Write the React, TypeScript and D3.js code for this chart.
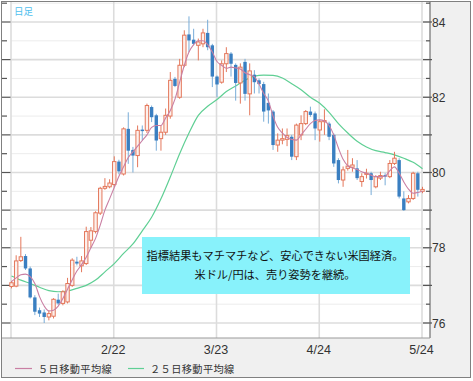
import React from 'react';
import * as d3 from 'd3';

const W = 473;
const H = 381;

// Daily candles (USD/JPY), index 0..88
const opens = [76.97,76.98,77.66,77.78,77.45,76.68,76.34,76.28,76.16,76.18,76.62,76.52,76.56,77.0,77.63,77.52,77.58,78.2,78.43,78.92,79.58,79.62,79.68,80.29,79.96,81.16,80.6,80.45,81.14,81.12,81.74,81.52,80.9,81.07,81.5,82.49,82.0,82.85,83.67,83.53,83.38,83.42,83.71,83.38,82.55,82.4,82.89,83.16,82.86,82.38,82.94,82.09,82.6,82.45,82.35,81.85,81.62,80.73,80.86,80.88,80.95,80.42,81.0,81.3,81.62,81.57,81.13,81.35,81.3,81.0,80.33,79.8,80.11,80.14,80.11,79.76,79.95,79.98,79.62,79.85,79.93,79.89,80.24,80.33,79.31,79.22,79.31,79.98,79.5];
const highs = [77.12,77.8,78.29,77.83,77.5,76.74,76.41,76.36,76.34,76.66,76.78,76.87,77.2,77.72,77.76,77.78,78.56,78.55,78.97,79.62,79.85,79.82,80.43,80.34,81.2,81.6,80.68,81.25,81.25,81.83,81.78,81.56,81.25,81.7,82.67,82.54,83.02,83.78,84.15,83.82,83.56,83.82,84.06,83.42,82.58,82.98,83.33,83.2,82.9,82.9,83.02,82.9,82.72,82.5,82.41,82.1,81.66,81.04,81.17,81.17,81.0,81.3,81.52,81.66,81.75,81.62,81.4,81.68,81.35,81.04,80.38,80.16,80.6,80.38,80.33,79.98,80.1,80.02,79.93,80.02,79.98,80.33,80.55,80.38,79.5,79.4,80.02,80.02,79.62];
const lows = [76.92,76.95,77.62,77.41,76.65,76.21,76.16,76.0,76.07,76.12,76.48,76.47,76.52,76.96,77.53,77.35,77.54,78.0,78.38,78.87,79.54,79.58,79.62,79.95,79.92,80.23,80.0,80.14,80.85,81.05,81.34,80.58,80.58,81.0,81.43,82.27,81.96,82.8,83.2,83.38,82.98,83.33,83.25,82.27,82.0,82.36,82.67,82.55,81.91,81.83,81.91,81.52,82.1,82.1,81.35,81.3,80.6,80.55,80.75,80.7,80.33,80.33,80.86,81.26,81.48,80.86,80.82,81.0,80.86,80.15,79.71,79.62,80.05,80.02,79.8,79.62,79.84,79.4,79.58,79.8,79.66,79.85,80.2,79.31,78.98,79.18,79.27,79.36,79.45];
const closes = [77.07,77.65,77.76,77.45,76.68,76.3,76.25,76.16,76.25,76.63,76.52,76.83,77.05,77.67,77.58,77.65,78.43,78.45,78.93,79.58,79.63,79.72,80.29,80.03,81.16,80.58,80.45,81.12,81.1,81.78,81.47,80.85,81.07,81.52,82.45,82.3,82.85,83.65,83.51,83.42,83.47,83.71,83.33,82.55,82.34,82.89,83.16,82.89,82.38,82.8,82.09,82.7,82.4,82.35,81.62,81.65,80.73,80.86,80.9,80.98,80.42,81.26,81.3,81.62,81.53,81.17,81.35,81.38,80.95,80.24,79.8,80.07,80.17,80.2,79.85,79.89,79.98,79.8,79.89,79.92,79.89,80.24,80.38,79.36,79.0,79.31,79.98,79.54,79.55];

// 5-day moving average (read per candle)
const ma5 = [77.1,77.2,77.28,77.3,77.23,77.05,76.7,76.45,76.32,76.34,76.45,76.65,76.9,77.15,77.38,77.55,77.75,78.0,78.25,78.6,79.0,79.3,79.6,79.9,80.15,80.4,80.55,80.7,80.85,81.0,81.2,81.25,81.25,81.45,81.65,81.95,82.4,82.85,83.2,83.4,83.5,83.5,83.4,83.2,82.95,82.85,82.77,82.8,82.78,82.75,82.65,82.6,82.55,82.35,82.1,81.9,81.5,81.2,81.05,80.93,80.88,80.86,81.0,81.15,81.3,81.38,81.4,81.37,81.25,81.0,80.65,80.35,80.18,80.12,80.08,80.02,79.98,79.93,79.89,79.89,79.9,80.05,80.15,79.98,79.75,79.56,79.45,79.47,79.5];

// 25-day moving average (read every other candle)
const ma25Idx = [0,2,4,6,8,10,12,14,16,18,20,22,24,26,28,30,32,34,36,38,40,42,44,46,48,50,52,54,56,58,60,62,64,66,68,70,72,74,76,78,80,82,84,86,88];
const ma25 = [77.25,77.14,77.05,76.95,76.86,76.83,76.85,76.92,77.0,77.14,77.36,77.58,77.85,78.1,78.45,78.81,79.3,79.88,80.5,81.05,81.52,81.76,81.94,82.15,82.3,82.45,82.56,82.59,82.58,82.51,82.36,82.2,82.0,81.84,81.6,81.3,81.05,80.83,80.68,80.58,80.53,80.47,80.38,80.27,80.1];

const gridIdx = [0, 22, 44, 66, 88];
const xTickIdx = [22, 44, 66, 88];
const xTickLabels = ['2/22', '3/23', '4/24', '5/24'];
const yLabels = [76, 78, 80, 82, 84];
const legendLabels = ['５日移動平均線', '２５日移動平均線'];
const noteLines = ['指標結果もマチマチなど、安心できない米国経済。', '米ドル/円は、売り姿勢を継続。'];
const periodLabel = '日足';

const UP = '#e4785c';
const DOWN = '#3a7fc1';
const DOWN_WICK = '#78acd8';
const MA5C = '#c97fa3';
const MA25C = '#5fcf94';

export default function App() {
  const x = d3.scaleLinear().domain([0, 88]).range([11.5, 422.5]);
  const y = d3.scaleLinear().domain([76, 84]).range([323, 22]);

  const gridVals = d3.range(76, 84.51, 0.5);

  const ma5Line = d3.line<number>()
    .x((_, i) => x(i))
    .y((d) => y(d))
    .curve(d3.curveMonotoneX)(ma5) as string;
  const ma25Line = d3.line<number>()
    .x((_, i) => x(ma25Idx[i]))
    .y((d) => y(d))
    .curve(d3.curveMonotoneX)(ma25) as string;

  const bw = 3.4;
  const jp = '"Noto Sans CJK JP", "Noto Sans", sans-serif';
  const lat = '"Liberation Sans", Arial, sans-serif';

  return (
    <svg width={W} height={H} style={{ position: 'absolute', left: 0, top: 0 }}>
      <rect x={0} y={0} width={W} height={H} fill="#ffffff" />
      <rect x={1.5} y={1.5} width={469} height={376} fill="#f0f0f0" stroke="#808080" />
      <rect x={2} y={2} width={428} height={336} fill="#ffffff" />

      {/* horizontal grid */}
      {gridVals.map((v) => {
        const major = Math.abs(v - Math.round(v)) < 1e-6;
        return (
          <line key={'g' + v} x1={11} x2={429} y1={y(v)} y2={y(v)}
            stroke={major ? '#dcdcdc' : '#ececec'} strokeWidth={major ? 1.6 : 1} />
        );
      })}
      {/* vertical grid */}
      {gridIdx.map((i) => (
        <line key={'v' + i} x1={x(i) - 0.5} x2={x(i) - 0.5} y1={2} y2={338} stroke="#dcdcdc" strokeWidth={1.6} />
      ))}

      {/* left ticks */}
      {gridVals.map((v) => {
        const major = Math.abs(v - Math.round(v)) < 1e-6;
        return <line key={'lt' + v} x1={2} x2={major ? 10.5 : 7} y1={y(v)} y2={y(v)} stroke="#555" strokeWidth={1.2} />;
      })}
      {/* right axis */}
      <line x1={430} x2={430} y1={2} y2={338} stroke="#707070" strokeWidth={1.2} />
      {gridVals.map((v) => {
        const major = Math.abs(v - Math.round(v)) < 1e-6;
        return <line key={'rt' + v} x1={major ? 423 : 426} x2={major ? 432 : 430} y1={y(v)} y2={y(v)} stroke="#555" strokeWidth={1.2} />;
      })}
      {yLabels.map((v) => (
        <text key={'yl' + v} x={432} y={y(v) + 4.5} fontFamily={lat} fontSize={12} fill="#333">{v}</text>
      ))}
      <line x1={2} x2={430} y1={338} y2={338} stroke="#9a9a9a" strokeWidth={1} />

      {/* x labels */}
      {xTickIdx.map((i, k) => (
        <text key={'xl' + i} x={x(i) - 1} y={354} textAnchor="middle" fontFamily={lat} fontSize={12.5} fill="#333">{xTickLabels[k]}</text>
      ))}

      {/* 25 MA */}
      <path d={ma25Line} fill="none" stroke={MA25C} strokeWidth={1.2} />

      {/* candles */}
      {opens.map((o, i) => {
        const c = closes[i];
        const up = c >= o;
        const cx = x(i);
        const top = y(Math.max(o, c));
        const bot = y(Math.min(o, c));
        return (
          <g key={'c' + i}>
            <line x1={cx} x2={cx} y1={y(highs[i])} y2={y(lows[i])} stroke={up ? UP : DOWN_WICK} strokeWidth={1} />
            {up ? (
              <rect x={cx - bw / 2} y={top} width={bw} height={Math.max(bot - top, 1)} fill="#fdf1ed" stroke={UP} strokeWidth={1} />
            ) : (
              <rect x={cx - bw / 2} y={top} width={bw} height={Math.max(bot - top, 1.2)} fill={DOWN} />
            )}
          </g>
        );
      })}

      {/* 5 MA */}
      <path d={ma5Line} fill="none" stroke={MA5C} strokeWidth={1.1} />

      {/* period label */}
      <text x={14} y={14.5} fontFamily={jp} fontSize={9.5} fill="#4fc0ee">{periodLabel}</text>

      {/* annotation */}
      <rect x={142} y={237} width={268} height={57} fill="#88f2fb" />
      {noteLines.map((t, k) => (
        <text key={'n' + k} x={275} y={260 + k * 18.5} textAnchor="middle" fontFamily={jp} fontSize={11.2} fill="#111">{t}</text>
      ))}

      {/* legend */}
      <line x1={15} x2={32} y1={368.5} y2={368.5} stroke={MA5C} strokeWidth={1.2} />
      <text x={38} y={372.5} fontFamily={jp} fontSize={10.2} letterSpacing={0.4} fill="#333">{legendLabels[0]}</text>
      <line x1={128} x2={144} y1={368.5} y2={368.5} stroke={MA25C} strokeWidth={1.2} />
      <text x={150} y={372.5} fontFamily={jp} fontSize={10.2} letterSpacing={0.4} fill="#333">{legendLabels[1]}</text>
    </svg>
  );
}
